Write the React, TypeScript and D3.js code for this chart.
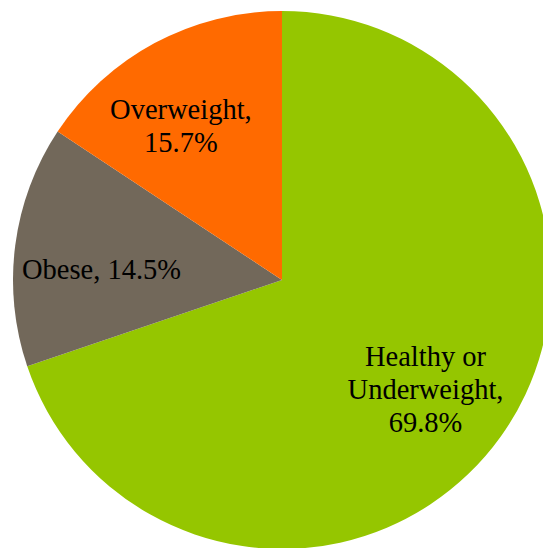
import React from "react";
import * as d3 from "d3";

const categories = ["Healthy or Underweight", "Obese", "Overweight"];
const values = [69.8, 14.5, 15.7];
const labelLines = [["Healthy or", "Underweight,", "69.8%"], ["Obese, 14.5%"], ["Overweight,", "15.7%"]];
const colors = ["#95C600", "#72685A", "#FF6A00"];
// label nudges (px) relative to centroid placement
const nudges = [[-6, 2], [2, 13], [-14, 8]];

const W = 543, H = 548;
const cx = 282, cy = 280, R = 269;
const labelR = 184;
const fontSize = 28.5;
const lineH = 33;

export default function App() {
  const pie = d3.pie<number>().sort(null).value((d) => d)(values);
  const arc = d3.arc<d3.PieArcDatum<number>>().innerRadius(0).outerRadius(R);
  const labelArc = d3.arc<d3.PieArcDatum<number>>().innerRadius(labelR).outerRadius(labelR);
  return (
    <svg width={W} height={H} style={{ position: "absolute", left: 0, top: 0 }}>
      <g transform={`translate(${cx},${cy})`}>
        {pie.map((p, i) => (
          <path key={categories[i]} d={arc(p) || ""} fill={colors[i]} />
        ))}
        {pie.map((p, i) => {
          const [lx, ly] = labelArc.centroid(p);
          const lines = labelLines[i];
          const x = lx + nudges[i][0];
          const y = ly + nudges[i][1];
          const y0 = y - ((lines.length - 1) * lineH) / 2 + fontSize * 0.35;
          return (
            <text key={"l" + i} x={x} y={y0} textAnchor="middle" fontFamily="'Liberation Serif', 'Times New Roman', serif" fontSize={fontSize} fill="#000">
              {lines.map((t, j) => (
                <tspan key={j} x={x} y={y0 + j * lineH}>{t}</tspan>
              ))}
            </text>
          );
        })}
      </g>
    </svg>
  );
}
